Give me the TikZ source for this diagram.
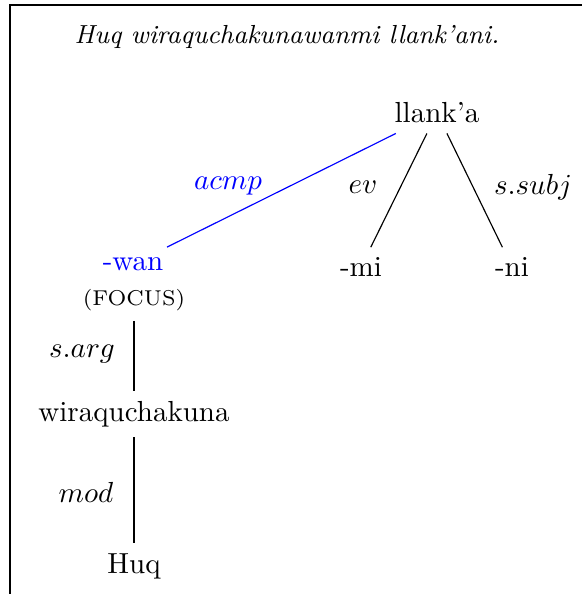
\documentclass[tikz,border=0pt]{standalone}
\begin{document}
\begin{tikzpicture}[x=0.3446pt,y=-0.3446pt,
  word/.style={inner sep=3.33pt},
  dep/.style={draw=black,line width=0.4pt},
  blueword/.style={word,text=blue}]
\useasboundingbox (0,0) rectangle (582,594);
\coordinate (ftl) at (10,5);
\coordinate (ftr) at (582,5);
\coordinate (fbl) at (10,594);
\draw[line width=0.4pt] (ftr) -- (ftl) -- (fbl);
\node[word] (title) at (287,37) {\small\itshape Huq wiraquchakunawanmi llank’ani.};
\node[word] (llanka) at (437,113) {llank’a};
\node[blueword] (wan) at (133,264) {-wan};
\node[word] (mi) at (361,267) {-mi};
\node[word] (ni) at (512,267) {-ni};
\node[word,font=\fontsize{7.4}{9}\selectfont] (focus) at (134,300) {(FOCUS)};
\node[word] (wira) at (134,414) {wiraquchakuna};
\node[word] (huq) at (134,566) {Huq};
\draw[dep,draw=blue] (llanka) -- (wan);
\draw[dep] (llanka) -- (mi);
\draw[dep] (llanka) -- (ni);
\draw[dep] (focus) -- (wira);
\draw[dep] (wira) -- (huq);
\node[text=blue] (lacmp) at (228,186) {$acmp$};
\node (lev) at (363,187) {$ev$};
\node (lsubj) at (533,187) {$s.subj$};
\node (larg) at (82,354) {$s.arg$};
\node (lmod) at (86,492) {$mod$};
\end{tikzpicture}
\end{document}
